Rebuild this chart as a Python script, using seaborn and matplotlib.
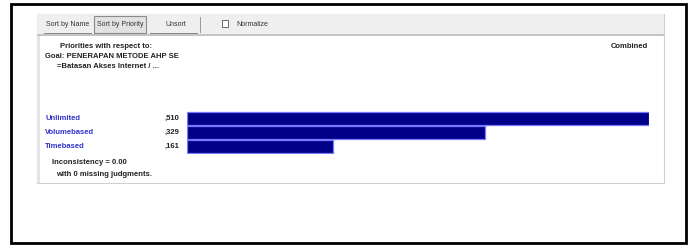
import matplotlib
matplotlib.use("Agg")
import matplotlib.pyplot as plt
import matplotlib.patches as mpatches
import matplotlib.transforms as mtransforms
import pandas as pd
import seaborn as sns

# data
alternatives = ["Unlimited", "Volumebased", "Timebased"]
priorities = [0.510, 0.329, 0.161]
value_labels = [",510", ",329", ",161"]

header_lines = ["Priorities with respect to:",
                "Goal: PENERAPAN METODE AHP SE",
                "=Batasan Akses Internet / ..."]
footer_lines = ["Inconsistency = 0.00", "with 0 missing judgments."]

W, H = 690, 246
sns.set_theme(style="white")
plt.rcParams["font.family"] = ["Liberation Sans", "DejaVu Sans"]

fig = plt.figure(figsize=(W / 100, H / 100), dpi=100)
fig.patch.set_facecolor("white")


def px(x, y):
    # pixel coords (top-left origin) -> figure fraction
    return x / W, 1 - y / H


def rect(x0, y0, x1, y1, **kw):
    fx, fy = px(x0, y1)
    fig.add_artist(mpatches.Rectangle((fx, fy), (x1 - x0) / W, (y1 - y0) / H,
                                      transform=fig.transFigure, zorder=-1, **kw))


def txt(x, y, s, **kw):
    fx, fy = px(x, y)
    fig.text(fx, fy, s, va="center", **kw)


# outer frame and panel
rect(11, 4, 686, 243, fill=False, edgecolor="black", linewidth=2)
rect(37, 14, 664, 183, facecolor="white", edgecolor="#cfcfcf", linewidth=0.8)
rect(37, 14, 664, 35, facecolor="#efefef", edgecolor="none")
rect(37, 34, 664, 36, facecolor="#c4c4c4", edgecolor="none")
rect(37, 36, 40, 183, facecolor="#e4e4e4", edgecolor="none")

# toolbar
rect(94, 16, 146, 33, facecolor="#e2e2e2", edgecolor="#8a8a8a", linewidth=0.8)
rect(44, 33, 92, 34, facecolor="#888888", edgecolor="none")
rect(150, 33, 198, 34, facecolor="#888888", edgecolor="none")
tb = dict(fontsize=5, color="#333333")
txt(46, 25, "Sort by Name", **tb)
txt(97, 25, "Sort by Priority", **tb)
txt(166, 25, "Unsort", **tb)
rect(200, 17, 201, 33, facecolor="#9a9a9a", edgecolor="none")
rect(222, 20, 228, 27, facecolor="white", edgecolor="#555555", linewidth=0.6)
txt(236, 24, "Normalize", **tb)

# header text
hd = dict(fontsize=5.5, fontweight="bold", color="#222222")
txt(60, 47, header_lines[0], **hd)
txt(45, 57, header_lines[1], **hd)
txt(57, 67, header_lines[2], **hd)
txt(648, 47, "Combined", ha="right", **hd)

# bar chart
x0, x1 = 187, 649
top, bottom = 111, 154
fl, fb = px(x0, bottom)
ax = fig.add_axes([fl, fb, (x1 - x0) / W, (bottom - top) / H])
ax.set_zorder(5)
ax.patch.set_alpha(0)
df = pd.DataFrame({"alt": alternatives, "p": priorities})
sns.barplot(data=df, x="p", y="alt", orient="h", color="#000088",
            saturation=1, width=0.9, edgecolor="#7878ff", linewidth=0.9, ax=ax)
ax.set_xlim(0, max(priorities))
ax.set_ylim(2.5, -0.5)
ax.axis("off")

trans = mtransforms.blended_transform_factory(fig.transFigure, ax.transData)
for i, (name, lab) in enumerate(zip(alternatives, value_labels)):
    ax.text(45 / W, i, name, transform=trans, va="center", fontsize=5.5,
            fontweight="bold", color="#3333cc", clip_on=False)
    ax.text(165 / W, i, lab, transform=trans, va="center", fontsize=5.5,
            fontweight="bold", color="#222222", clip_on=False)

txt(52, 163, footer_lines[0], **hd)
txt(56, 175, footer_lines[1], **hd)

fig.savefig("out.png", dpi=100)
